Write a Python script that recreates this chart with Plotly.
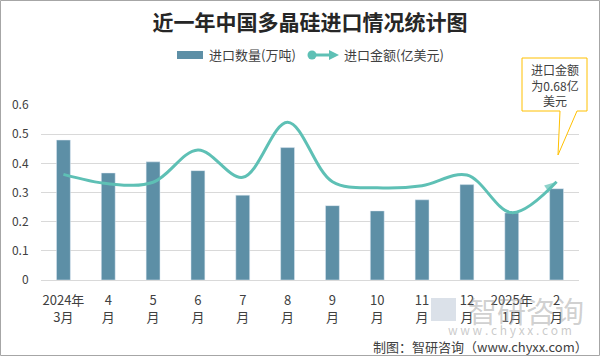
import plotly.graph_objects as go

categories = ["2024年<br>3月", "4<br>月", "5<br>月", "6<br>月", "7<br>月", "8<br>月",
              "9<br>月", "10<br>月", "11<br>月", "12<br>月", "2025年<br>1月", "2<br>月"]
quantity = [0.480, 0.367, 0.405, 0.375, 0.291, 0.454, 0.255, 0.237, 0.275, 0.327, 0.230, 0.313]
amount = [0.362, 0.330, 0.335, 0.446, 0.352, 0.541, 0.337, 0.316, 0.323, 0.360, 0.231, 0.337]
y_ticks = [0, 0.1, 0.2, 0.3, 0.4, 0.5, 0.6]
y_tick_text = ["0", "0.1", "0.2", "0.3", "0.4", "0.5", "0.6"]

BAR_COLOR = "#5d8fa6"
LINE_COLOR = "#5ec0b5"
FONT = "Noto Sans CJK SC"

# plot area in pixels
L, R, T, B = 41, 579, 105, 280
W, H = 600, 356


def px(x):
    return (x - L) / (R - L)


def py(y):
    return (B - y) / (B - T)


fig = go.Figure()
fig.add_trace(go.Bar(x=categories, y=quantity, marker_color=BAR_COLOR, width=0.31,
                     name="进口数量(万吨)", showlegend=False))

n = len(amount)
symbols = ["circle"] + ["circle"] * (n - 2) + ["arrow"]
sizes = [11] + [0] * (n - 2) + [13]
fig.add_trace(go.Scatter(x=categories, y=amount, mode="lines+markers",
                         line=dict(color=LINE_COLOR, width=3, shape="spline", smoothing=1.0),
                         marker=dict(symbol=symbols, size=sizes, color=LINE_COLOR,
                                     angleref="previous", line=dict(width=0)),
                         name="进口金额(亿美元)", showlegend=False))

shapes = []
annotations = []

# outer border
shapes.append(dict(type="rect", xref="paper", yref="paper",
                   x0=px(0.5), x1=px(599.5), y0=py(355.5), y1=py(0.5),
                   line=dict(color="#a6a6a6", width=1), fillcolor="rgba(0,0,0,0)", layer="above"))

# manual legend
shapes.append(dict(type="rect", xref="paper", yref="paper",
                   x0=px(177), x1=px(203), y0=py(59), y1=py(51),
                   line=dict(width=0), fillcolor=BAR_COLOR))
annotations.append(dict(xref="paper", yref="paper", x=px(207), y=py(55), xanchor="left",
                        yanchor="middle", text="进口数量(万吨)", showarrow=False,
                        font=dict(family=FONT, size=13, color="#404040")))
shapes.append(dict(type="line", xref="paper", yref="paper",
                   x0=px(312), x1=px(332), y0=py(55), y1=py(55),
                   line=dict(color=LINE_COLOR, width=3)))
shapes.append(dict(type="circle", xref="paper", yref="paper",
                   x0=px(307.5), x1=px(316.5), y0=py(59.5), y1=py(50.5),
                   line=dict(width=0), fillcolor=LINE_COLOR))
shapes.append(dict(type="path", xref="paper", yref="paper",
                   path=f"M {px(329)},{py(50)} L {px(339)},{py(55)} L {px(329)},{py(60)} Z",
                   line=dict(width=0), fillcolor=LINE_COLOR))
annotations.append(dict(xref="paper", yref="paper", x=px(342), y=py(55), xanchor="left",
                        yanchor="middle", text="进口金额(亿美元)", showarrow=False,
                        font=dict(family=FONT, size=13, color="#404040")))

# callout box
callout = (f"M {px(522)},{py(58)} L {px(587)},{py(58)} L {px(587)},{py(111)} "
           f"L {px(577)},{py(111)} L {px(558)},{py(155)} L {px(560)},{py(111)} "
           f"L {px(522)},{py(111)} Z")
shapes.append(dict(type="path", xref="paper", yref="paper", path=callout,
                   line=dict(color="#ffc000", width=1), fillcolor="white", layer="above"))
annotations.append(dict(xref="paper", yref="paper", x=px(555), y=py(85), xanchor="center",
                        yanchor="middle", text="进口金额<br>为0.68亿<br>美元", showarrow=False,
                        font=dict(family=FONT, size=12, color="#404040")))

# watermark
shapes.append(dict(type="rect", xref="paper", yref="paper",
                   x0=px(431), x1=px(456), y0=py(321), y1=py(298),
                   line=dict(width=0), fillcolor="rgba(190,200,215,0.55)"))
annotations.append(dict(xref="paper", yref="paper", x=px(526), y=py(310), xanchor="center",
                        yanchor="middle", text="智研咨询", showarrow=False,
                        font=dict(family=FONT, size=29, color="rgba(150,150,150,0.45)")))
annotations.append(dict(xref="paper", yref="paper", x=px(510), y=py(329), xanchor="center",
                        yanchor="middle", text="w w w . c h y x x . c o m", showarrow=False,
                        font=dict(family=FONT, size=12, color="rgba(150,150,150,0.5)")))

# source
annotations.append(dict(xref="paper", yref="paper", x=px(590), y=py(346), xanchor="right",
                        yanchor="middle", text="制图：智研咨询（www.chyxx.com）", showarrow=False,
                        font=dict(family=FONT, size=13, color="#404040")))

fig.update_layout(
    width=W, height=H,
    margin=dict(l=L, r=W - R, t=T, b=H - B, autoexpand=False),
    paper_bgcolor="white", plot_bgcolor="white",
    title=dict(text="<b>近一年中国多晶硅进口情况统计图</b>", x=0.5, xref="paper", xanchor="center",
               y=1 - 23 / H, yanchor="middle",
               font=dict(family=FONT, size=21, color="#262626")),
    showlegend=False,
    shapes=shapes,
    annotations=annotations,
    xaxis=dict(type="category", range=[-0.5, len(categories) - 0.5],
               showgrid=False, showline=True, linecolor="#d9d9d9",
               ticks="outside", ticklen=8, tickcolor="rgba(0,0,0,0)",
               tickfont=dict(family=FONT, size=13, color="#404040"), fixedrange=True),
    yaxis=dict(range=[0, 0.6], tickvals=y_ticks, ticktext=y_tick_text,
               showgrid=True, gridcolor="#d9d9d9", gridwidth=1, zeroline=False,
               ticks="outside", ticklen=9, tickcolor="rgba(0,0,0,0)",
               tickfont=dict(family=FONT, size=12, color="#404040"), fixedrange=True),
    bargap=0.6,
)

fig.write_html("out.html", config={"displayModeBar": False},
               post_script="document.body.style.margin='0px';document.body.style.overflow='hidden';")
